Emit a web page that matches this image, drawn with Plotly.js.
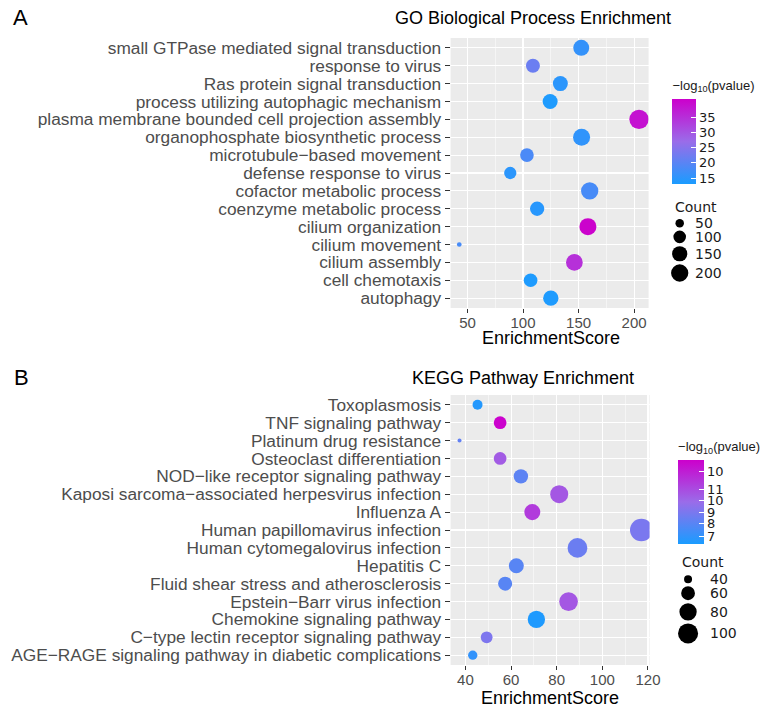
<!DOCTYPE html>
<html><head><meta charset="utf-8">
<script src="https://cdn.plot.ly/plotly-3.0.1.min.js"></script>
<style>html,body{margin:0;padding:0;background:#fff;overflow:hidden;width:760px;height:709px}#chart{width:760px;height:709px;overflow:hidden}</style>
</head><body><div id="chart"></div>
<script>
// ---------- GO Biological Process (panel A), listed top to bottom ----------
const goTerms = [
  "small GTPase mediated signal transduction",
  "response to virus",
  "Ras protein signal transduction",
  "process utilizing autophagic mechanism",
  "plasma membrane bounded cell projection assembly",
  "organophosphate biosynthetic process",
  "microtubule\u2212based movement",
  "defense response to virus",
  "cofactor metabolic process",
  "coenzyme metabolic process",
  "cilium organization",
  "cilium movement",
  "cilium assembly",
  "cell chemotaxis",
  "autophagy"
];
const goScore = [152.4, 108.9, 133.6, 124.4, 204.4, 152.7, 103.5, 88.5, 160, 112.7, 158.4, 42.6, 146.2, 106.8, 125];
const goCount = [168, 125, 145, 145, 257, 193, 119, 95, 200, 131, 193, 35, 185, 119, 152];
const goLogP  = [16, 22, 15, 13.5, 39, 15.5, 18.5, 15, 18, 14.5, 41, 18, 35, 13.5, 13.5];
const goXTicks = [50, 100, 150, 200];
const goColorTicks = [15, 20, 25, 30, 35];
const goSizeBreaks = [50, 100, 150, 200];

// ---------- KEGG pathways (panel B), listed top to bottom ----------
const keggTerms = [
  "Toxoplasmosis",
  "TNF signaling pathway",
  "Platinum drug resistance",
  "Osteoclast differentiation",
  "NOD\u2212like receptor signaling pathway",
  "Kaposi sarcoma\u2212associated herpesvirus infection",
  "Influenza A",
  "Human papillomavirus infection",
  "Human cytomegalovirus infection",
  "Hepatitis C",
  "Fluid shear stress and atherosclerosis",
  "Epstein\u2212Barr virus infection",
  "Chemokine signaling pathway",
  "C\u2212type lectin receptor signaling pathway",
  "AGE\u2212RAGE signaling pathway in diabetic complications"
];
const keggScore = [45.3, 55.2, 37.4, 55.2, 64.3, 81.1, 69.3, 117.1, 89.1, 62.3, 57.4, 85.2, 71.1, 49.3, 43.2];
const keggCount = [45, 55, 36, 55, 63, 85, 72, 123, 98, 66, 61, 90, 80, 51, 43];
const keggLogP  = [6.7, 11.8, 8.0, 9.6, 7.9, 9.7, 10.4, 8.5, 8.2, 7.8, 7.8, 9.7, 6.6, 8.6, 7.0];
const keggXTicks = [40, 60, 80, 100, 120];
const keggColorTickVals = [7, 7.8, 8.5, 9.3, 10, 11.15];
const keggColorTickText = ["7", "8", "9", "10", "11", "10"];
const keggSizeBreaks = [40, 60, 80, 100];

// ---------- helpers ----------
const W = 760, H = 709;
const px = v => v / W;          // horizontal pixel -> paper
const py = v => 1 - v / H;      // vertical pixel -> paper
const FONT = "Liberation Sans, Arial, Helvetica, sans-serif";
const LFONT = "DejaVu Sans, Verdana, sans-serif";
const colorscale = [[0, "#1A9CFF"], [0.5, "#9A6CE9"], [1, "#CC00CC"]];

// ggplot-like area size scale: diameter grows with sqrt of rescaled count
function sizeScale(counts, dMin, dMax) {
  const lo = Math.min(...counts), hi = Math.max(...counts);
  return c => dMin + (dMax - dMin) * Math.sqrt(Math.max(0, c - lo) / (hi - lo));
}
const goSize = sizeScale(goCount, 4.7, 19.3);
const keggSize = sizeScale(keggCount, 4, 22.7);

function colorbar(x, yTop, yBot, thick, vals, text) {
  const titleH = 20;
  return {
    x: px(x), xanchor: "left", y: py((yTop - titleH + yBot) / 2), yanchor: "middle",
    lenmode: "pixels", len: yBot - yTop + titleH, thickness: thick, xpad: 0, ypad: 0,
    outlinewidth: 0, ticks: "inside", tickcolor: "white", ticklen: 5,
    tickvals: vals, ticktext: text,
    tickfont: {family: LFONT, size: 13, color: "#1a1a1a"},
    title: {text: "\u2212log<sub>10</sub>(pvalue)", side: "top",
            font: {family: FONT, size: 13, color: "#1a1a1a"}}
  };
}

const traces = [
  {
    type: "scatter", mode: "markers", xaxis: "x", yaxis: "y",
    x: goScore, y: goTerms, hoverinfo: "x+y",
    marker: {
      size: goCount.map(goSize), sizemode: "diameter",
      color: goLogP, colorscale: colorscale, cmin: 13.1, cmax: 41.2,
      line: {width: 0}, opacity: 1, showscale: true,
      colorbar: colorbar(676, 96.7, 184, 24, goColorTicks, goColorTicks.map(String))
    }
  },
  {
    type: "scatter", mode: "markers", xaxis: "x2", yaxis: "y2",
    x: keggScore, y: keggTerms, hoverinfo: "x+y",
    marker: {
      size: keggCount.map(keggSize), sizemode: "diameter",
      color: keggLogP, colorscale: colorscale, cmin: 6.5, cmax: 11.85,
      line: {width: 0}, opacity: 1, showscale: true,
      colorbar: colorbar(681.7, 458.3, 544.3, 26, keggColorTickVals, keggColorTickText)
    }
  }
];

function xAxis(domain, range, ticks, minor0, minorStep, anchor) {
  return {
    domain: domain, range: range, anchor: anchor,
    tickmode: "array", tickvals: ticks, ticktext: ticks.map(String),
    ticks: "outside", ticklen: 4, tickcolor: "#333333", tickwidth: 1,
    ticklabelstandoff: -3,
    tickfont: {family: FONT, size: 15, color: "#4D4D4D"},
    showgrid: true, gridcolor: "#FFFFFF", gridwidth: 1.1,
    minor: {tick0: minor0, dtick: minorStep, showgrid: true, gridcolor: "#FFFFFF", gridwidth: 0.5, ticks: ""},
    zeroline: false, showline: false, fixedrange: true
  };
}
function yAxis(domain, cats, anchor) {
  return {
    domain: domain, type: "category", categoryorder: "array", categoryarray: cats,
    tickmode: "array", tickvals: cats, ticktext: cats,
    range: [cats.length - 1 + 0.55, -0.55], anchor: anchor,
    ticks: "outside", ticklen: 5, tickcolor: "#333333", tickwidth: 1,
    tickfont: {family: FONT, size: 17.3, color: "#4D4D4D"},
    showgrid: true, gridcolor: "#FFFFFF", gridwidth: 1.1,
    zeroline: false, showline: false, fixedrange: true
  };
}

const annotations = [
  {text: "A", x: px(11), y: py(18), xanchor: "left", yanchor: "middle", font: {family: FONT, size: 22, color: "#000"}},
  {text: "B", x: px(12), y: py(378), xanchor: "left", yanchor: "middle", font: {family: FONT, size: 22, color: "#000"}},
  {text: "GO Biological Process Enrichment", x: px(536), y: py(18), xanchor: "center", yanchor: "middle", font: {family: FONT, size: 18, color: "#000"}},
  {text: "KEGG Pathway Enrichment", x: px(525.5), y: py(378), xanchor: "center", yanchor: "middle", font: {family: FONT, size: 18, color: "#000"}},
  {text: "EnrichmentScore", x: px(554), y: py(338.3), xanchor: "center", yanchor: "middle", font: {family: FONT, size: 18, color: "#000"}},
  {text: "EnrichmentScore", x: px(553), y: py(698), xanchor: "center", yanchor: "middle", font: {family: FONT, size: 18, color: "#000"}},
  {text: "Count", x: px(677), y: py(206.7), xanchor: "left", yanchor: "middle", font: {family: LFONT, size: 14, color: "#1a1a1a"}},
  {text: "Count", x: px(684), y: py(561.7), xanchor: "left", yanchor: "middle", font: {family: LFONT, size: 14, color: "#1a1a1a"}}
].map(a => Object.assign({xref: "paper", yref: "paper", showarrow: false}, a));

// size legends (keys stacked with key height = diameter + gap)
const shapes = [];
function sizeLegend(breaks, sizeFn, cx, firstY, labelX) {
  let y = firstY, prev = null;
  breaks.forEach(b => {
    const d = sizeFn(b);
    if (prev !== null) y += (prev + d) / 2 + 3;
    prev = d;
    shapes.push({type: "circle", xref: "paper", yref: "paper", xsizemode: "pixel", ysizemode: "pixel",
      xanchor: px(cx), yanchor: py(y), x0: -d / 2, x1: d / 2, y0: -d / 2, y1: d / 2,
      fillcolor: "#000", line: {width: 0}});
    annotations.push({xref: "paper", yref: "paper", showarrow: false, text: String(b),
      x: px(labelX), y: py(y), xanchor: "left", yanchor: "middle",
      font: {family: LFONT, size: 14, color: "#1a1a1a"}});
  });
}
sizeLegend(goSizeBreaks, goSize, 683.3, 223.3, 697);
sizeLegend(keggSizeBreaks, keggSize, 691.7, 579.3, 711.5);

const layout = {
  width: W, height: H, margin: {l: 0, r: 0, t: 0, b: 0},
  paper_bgcolor: "#FFFFFF", plot_bgcolor: "#EBEBEB", showlegend: false,
  xaxis: xAxis([px(453), px(652)], [34.8, 213], goXTicks, 25, 25, "y"),
  yaxis: yAxis([py(308), py(38)], goTerms, "x"),
  xaxis2: xAxis([px(453), px(653)], [33.5, 120.7], keggXTicks, 30, 20, "y2"),
  yaxis2: yAxis([py(665), py(395)], keggTerms, "x2"),
  annotations: annotations, shapes: shapes
};

Plotly.newPlot("chart", traces, layout, {displayModeBar: false, staticPlot: true});
</script></body></html>
